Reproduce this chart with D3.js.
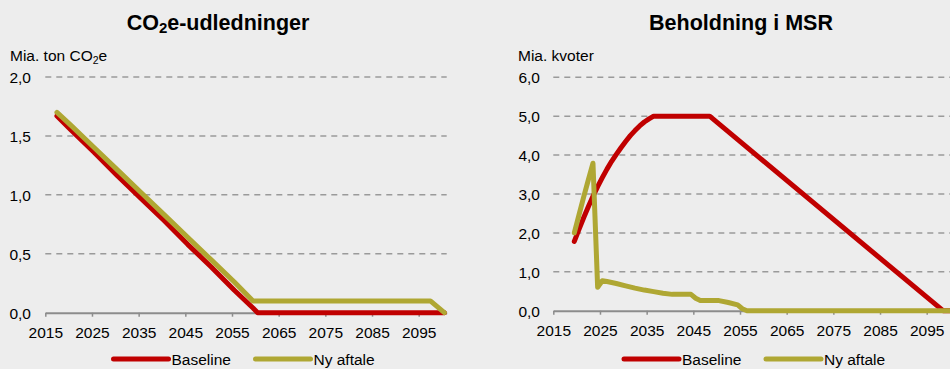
<!DOCTYPE html>
<html>
<head>
<meta charset="utf-8">
<script src="https://cdn.jsdelivr.net/npm/d3@7"></script>
<style>
  html, body { margin: 0; padding: 0; background: #EDEDED; }
  svg { display: block; font-family: "Liberation Sans", Arial, sans-serif; }
</style>
</head>
<body>
<svg id="chart" width="950" height="369"></svg>
<script>
// Category axis: one slot per year
const firstYear = 2015;
const lastYear = 2100;
const tickYears = [2015, 2025, 2035, 2045, 2055, 2065, 2075, 2085, 2095];

const seriesNames = ["Baseline", "Ny aftale"];
const seriesColors = ["#C00000", "#AFA733"];

// Left panel: CO2e emissions (bn tonnes)
const emisYears    = [2017, 2020, 2025, 2030, 2035, 2040, 2045, 2050, 2055, 2059, 2060, 2061, 2070, 2080, 2090, 2097, 2100];
const emisBaseline = [1.67, 1.55, 1.36, 1.16, 0.97, 0.78, 0.58, 0.39, 0.19, 0.04, 0.00, 0.00, 0.00, 0.00, 0.00, 0.00, 0.00];
const emisNyAftale = [1.70, 1.59, 1.40, 1.21, 1.02, 0.83, 0.64, 0.45, 0.26, 0.10, 0.10, 0.10, 0.10, 0.10, 0.10, 0.10, 0.00];
const emisTicks = [0, 0.5, 1.0, 1.5, 2.0];

// Right panel: MSR holdings (bn allowances)
const msrBaseYears = [2019, 2020, 2021, 2022, 2023, 2024, 2025, 2026, 2027, 2028, 2029, 2030, 2031, 2032, 2033, 2034, 2035, 2036, 2048, 2098, 2100];
const msrBaseline  = [1.78, 2.09, 2.39, 2.67, 2.94, 3.19, 3.42, 3.64, 3.84, 4.02, 4.19, 4.35, 4.50, 4.63, 4.75, 4.85, 4.93, 5.00, 5.00, 0.00, 0.00];
const msrNyYears   = [2019, 2020, 2021, 2022, 2023, 2024, 2025, 2026, 2028, 2030, 2032, 2034, 2036, 2038, 2040, 2044, 2045, 2046, 2050, 2052, 2054, 2055, 2056, 2100];
const msrNyAftale  = [2.00, 2.46, 2.92, 3.36, 3.79, 0.60, 0.77, 0.75, 0.70, 0.64, 0.58, 0.53, 0.49, 0.45, 0.42, 0.42, 0.32, 0.26, 0.26, 0.21, 0.15, 0.05, 0.00, 0.00];
const msrTicks = [0, 1, 2, 3, 4, 5, 6];

const svg = d3.select("#chart");
const fmt = d => d.toFixed(1).replace(".", ",");

function panel(cfg) {
  const g = svg.append("g");
  // slot edges: year y occupies [y, y+1)
  const x = d3.scaleLinear().domain([firstYear, lastYear + 1]).range([cfg.x0, cfg.x1]);
  const y = d3.scaleLinear().domain([0, cfg.yMax]).range([cfg.yBottom, cfg.yTop]);

  // title
  const t = g.append("text")
    .attr("x", cfg.titleX).attr("y", 30)
    .attr("text-anchor", "middle")
    .attr("font-size", "21.5px").attr("font-weight", "bold").attr("fill", "#000");
  cfg.title(t);

  // unit label
  const u = g.append("text")
    .attr("x", cfg.unitX).attr("y", 61)
    .attr("font-size", "15.5px").attr("fill", "#000");
  cfg.unit(u);

  // dashed gridlines
  g.append("g").selectAll("line")
    .data(cfg.ticks.filter(d => d > 0))
    .join("line")
    .attr("x1", cfg.x0).attr("x2", cfg.x1)
    .attr("y1", d => y(d)).attr("y2", d => y(d))
    .attr("stroke", "#9A9A9A").attr("stroke-width", 1.5)
    .attr("stroke-dasharray", "6,5");

  // y tick labels
  g.append("g").selectAll("text")
    .data(cfg.ticks)
    .join("text")
    .attr("x", cfg.yLabelX).attr("y", d => y(d) + 6)
    .attr("text-anchor", "end")
    .attr("font-size", "15.5px").attr("fill", "#000")
    .text(fmt);

  // x axis
  const ax = g.append("g")
    .attr("transform", `translate(0,${cfg.yBottom})`)
    .call(d3.axisBottom(x).tickValues(tickYears).tickFormat(d3.format("d"))
      .tickSize(4).tickSizeOuter(0).tickPadding(10));
  ax.select(".domain").attr("stroke", "#8C8C8C").attr("stroke-width", 2);
  ax.selectAll(".tick line").attr("stroke", "#8C8C8C").attr("stroke-width", 1.5);
  ax.selectAll(".tick text").attr("font-size", "15.5px").attr("fill", "#000")
    .attr("font-family", "Liberation Sans, Arial, sans-serif");

  // series
  const line = d3.line().x(d => x(d[0] + 0.5)).y(d => y(d[1]));
  cfg.series.forEach((s, i) => {
    g.append("path")
      .datum(d3.zip(s.years, s.values))
      .attr("d", line)
      .attr("fill", "none")
      .attr("stroke", seriesColors[i])
      .attr("stroke-width", 5)
      .attr("stroke-linejoin", "round")
      .attr("stroke-linecap", "round");
  });

  // legend
  const lg = g.append("g");
  seriesNames.forEach((name, i) => {
    const lx = cfg.legendX[i];
    lg.append("line")
      .attr("x1", lx).attr("x2", lx + 55)
      .attr("y1", 359).attr("y2", 359)
      .attr("stroke", seriesColors[i]).attr("stroke-width", 5)
      .attr("stroke-linecap", "round");
    lg.append("text")
      .attr("x", lx + 58).attr("y", 364.5)
      .attr("font-size", "15.5px").attr("fill", "#000")
      .text(name);
  });
}

panel({
  x0: 45.3, x1: 446.7, yTop: 77, yBottom: 312.7, yMax: 2,
  ticks: emisTicks, yLabelX: 31, titleX: 218, unitX: 10,
  title: t => {
    t.append("tspan").text("CO");
    t.append("tspan").attr("font-size", "15px").attr("dy", 3).text("2");
    t.append("tspan").attr("dy", -3).text("e-udledninger");
  },
  unit: u => {
    u.append("tspan").text("Mia. ton CO");
    u.append("tspan").attr("font-size", "10.5px").attr("dy", 3).text("2");
    u.append("tspan").attr("dy", -3).text("e");
  },
  series: [
    { years: emisYears, values: emisBaseline },
    { years: emisYears, values: emisNyAftale }
  ],
  legendX: [113.5, 255.5]
});

panel({
  x0: 553.3, x1: 954.7, yTop: 77.3, yBottom: 310.7, yMax: 6,
  ticks: msrTicks, yLabelX: 540, titleX: 741, unitX: 518,
  title: t => t.text("Beholdning i MSR"),
  unit: u => u.text("Mia. kvoter"),
  series: [
    { years: msrBaseYears, values: msrBaseline },
    { years: msrNyYears, values: msrNyAftale }
  ],
  legendX: [624, 766]
});
</script>
</body>
</html>
